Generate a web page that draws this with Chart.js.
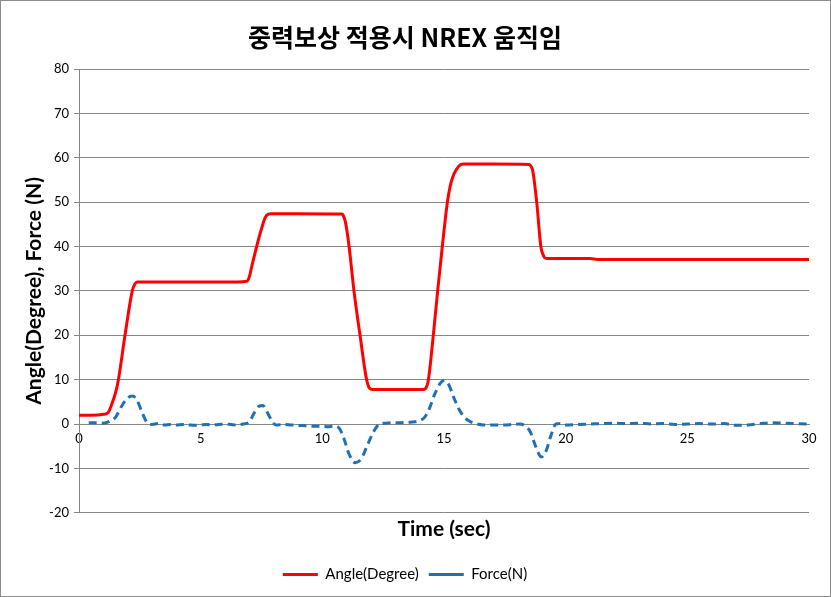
<!DOCTYPE html>
<html lang="ko">
<head>
<meta charset="UTF-8">
<title>중력보상 적용시 NREX 움직임</title>
<script src="https://cdn.jsdelivr.net/npm/chart.js"></script>
<style>
  html, body { margin: 0; padding: 0; background: #fff; }
  .frame { width: 831px; height: 597px; box-sizing: border-box; border: 1px solid #8c8c8c; position: relative; }
</style>
</head>
<body>
<div class="frame"><canvas id="chart"></canvas></div>
<script>
// Angle (degree) vs time (sec)
const angleTime = [0, 0.5, 1.0, 1.2, 1.35, 1.5, 1.62, 1.89, 2.19, 2.3, 2.4, 2.5, 4, 6, 6.9, 7.0, 7.1, 7.3, 7.5, 7.65, 7.78, 7.9, 9, 10.8, 10.86, 10.95, 11.1, 11.3, 11.55, 11.82, 11.95, 12.05, 13, 14.15, 14.22, 14.36, 14.56, 14.74, 14.93, 15.14, 15.25, 15.35, 15.5, 15.7, 15.8, 17, 18.5, 18.56, 18.65, 18.81, 18.98, 19.1, 19.2, 20, 21, 21.3, 25, 30];
const angleValue = [2.0, 2.0, 2.2, 2.6, 4.5, 7.0, 10, 20, 30, 31.6, 32, 32, 32, 32, 32.2, 33.2, 35.5, 40, 44, 46.5, 47.3, 47.4, 47.4, 47.3, 47.0, 45.5, 40, 30, 20, 10, 8.0, 7.8, 7.8, 7.8, 7.9, 10, 20, 30, 40, 50, 53.5, 55.5, 57.3, 58.5, 58.6, 58.6, 58.5, 58.2, 57, 50, 40, 37.8, 37.3, 37.3, 37.3, 37.1, 37.1, 37.1];

// Force (N) vs time (sec)
const forceTime = [0.4, 0.75, 1.0, 1.25, 1.5, 1.75, 2.0, 2.2, 2.4, 2.6, 2.8, 3.0, 3.25, 3.5, 3.75, 4.0, 4.25, 4.5, 4.75, 5.0, 5.25, 5.5, 5.75, 6.0, 6.25, 6.5, 6.75, 7.0, 7.2, 7.4, 7.55, 7.7, 7.9, 8.1, 8.4, 8.7, 9.0, 9.3, 9.6, 9.9, 10.2, 10.5, 10.7, 10.9, 11.1, 11.35, 11.6, 11.85, 12.1, 12.35, 12.6, 12.9, 13.2, 13.5, 13.8, 14.0, 14.2, 14.4, 14.6, 14.85, 15.0, 15.2, 15.4, 15.6, 15.8, 16.0, 16.3, 16.6, 17.0, 17.4, 17.8, 18.1, 18.3, 18.55, 18.75, 19.0, 19.2, 19.4, 19.6, 19.8, 20.0, 20.5, 21.0, 21.5, 22.0, 22.5, 23.0, 23.5, 24.0, 24.5, 25.0, 25.5, 26.0, 26.5, 27.0, 27.5, 28.0, 28.5, 29.0, 29.5, 30.0];
const forceValue = [0.3, 0.3, 0.2, 0.6, 1.5, 4.0, 5.9, 6.3, 5.2, 2.5, 0.3, -0.1, 0.1, -0.2, -0.1, -0.2, -0.1, -0.2, -0.3, -0.2, -0.1, -0.2, -0.1, 0.0, -0.1, -0.2, 0.0, 0.5, 2.5, 4.0, 4.2, 3.0, 1.0, -0.2, -0.1, -0.2, -0.3, -0.4, -0.5, -0.5, -0.6, -0.5, -1.0, -3.5, -6.8, -8.7, -7.8, -4.8, -1.8, 0.0, 0.2, 0.3, 0.3, 0.4, 0.5, 0.8, 1.5, 3.5, 6.5, 9.2, 9.8, 8.8, 6.0, 3.5, 1.8, 0.8, 0.1, -0.2, -0.2, -0.2, -0.1, 0.0, -0.3, -1.8, -4.8, -7.4, -6.0, -2.5, 0.0, 0.1, -0.2, -0.1, 0.0, 0.1, 0.2, 0.1, 0.2, 0.0, 0.1, -0.1, 0.0, 0.1, 0.0, 0.1, -0.3, -0.2, 0.1, 0.3, 0.2, 0.1, 0.0];

const xMin = 0, xMax = 30, xStep = 5;
const yMin = -20, yMax = 80, yStep = 10;

const gridColor = '#868686';
const toPoints = (xs, ys) => xs.map((x, i) => ({ x: x, y: ys[i] }));

new Chart(document.getElementById('chart'), {
  type: 'line',
  data: {
    datasets: [
      {
        label: 'Angle(Degree)',
        data: toPoints(angleTime, angleValue),
        borderColor: '#ff0000',
        backgroundColor: '#ff0000',
        borderWidth: 3,
        pointRadius: 0,
        cubicInterpolationMode: 'monotone',
        fill: false
      },
      {
        label: 'Force(N)',
        data: toPoints(forceTime, forceValue),
        borderColor: '#2070b4',
        backgroundColor: '#2070b4',
        borderWidth: 3,
        borderDash: [8, 5],
        pointRadius: 0,
        cubicInterpolationMode: 'monotone',
        fill: false
      }
    ]
  },
  options: {
    responsive: true,
    maintainAspectRatio: false,
    animation: false,
    layout: { padding: { left: 0, right: 21, top: 0, bottom: 4 } },
    plugins: {
      title: {
        display: true,
        text: '중력보상 적용시 NREX 움직임',
        color: '#000',
        font: { family: 'Noto Sans CJK KR', size: 25, weight: 'bold' },
        padding: { top: 21, bottom: 17 }
      },
      legend: {
        position: 'bottom',
        labels: {
          usePointStyle: true,
          pointStyle: 'line',
          pointStyleWidth: 35,
          color: '#000',
          font: { family: 'Lato', size: 15 },
          padding: 10
        }
      },
      tooltip: { enabled: false }
    },
    scales: {
      x: {
        type: 'linear',
        position: { y: 0 },
        min: xMin,
        max: xMax,
        ticks: { stepSize: xStep, color: '#000', font: { family: 'Lato', size: 13 }, padding: 2, maxRotation: 0 },
        grid: { display: false, drawTicks: true, tickLength: 5 },
        border: { color: gridColor }
      },
      xb: {
        type: 'linear',
        position: 'bottom',
        min: xMin,
        max: xMax,
        ticks: { display: false },
        grid: { display: false, drawTicks: false },
        border: { display: false },
        title: {
          display: true,
          text: 'Time (sec)',
          color: '#000',
          font: { family: 'Lato', size: 21, weight: 'bold' },
          padding: { top: 4, bottom: 15 }
        }
      },
      y: {
        min: yMin,
        max: yMax,
        ticks: { stepSize: yStep, color: '#000', font: { family: 'Lato', size: 13 }, padding: 5 },
        grid: { color: gridColor, tickLength: 5 },
        border: { color: gridColor },
        title: {
          display: true,
          text: 'Angle(Degree), Force (N)',
          color: '#000',
          font: { family: 'Lato', size: 21, weight: 'bold' },
          padding: { top: 21, bottom: 0 }
        },
        afterFit: function (scale) { scale.width = 78; }
      }
    }
  }
});
</script>
</body>
</html>
